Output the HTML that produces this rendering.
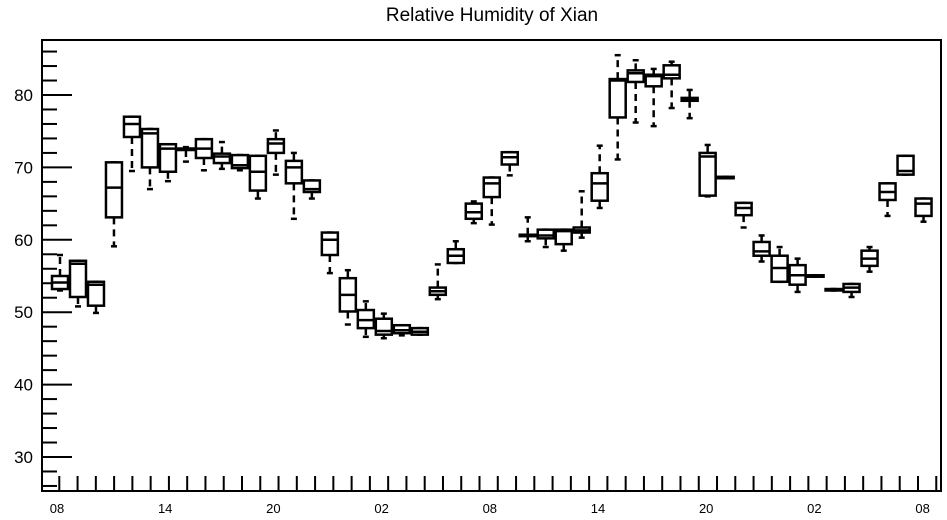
<!DOCTYPE html>
<html><head><meta charset="utf-8"><style>
body{margin:0;background:#fff;}
svg{display:block;font-family:"Liberation Sans",sans-serif;}
</style></head><body>
<svg id="chart" width="947" height="520" viewBox="0 0 947 520">
<text x="492" y="21" font-size="19" text-anchor="middle">Relative Humidity of Xian</text>
<rect x="42" y="40" width="899" height="451" fill="none" stroke="#000" stroke-width="2"/>
<g id="yaxis"></g>
<g id="xaxis"></g>
<g id="boxes"></g>
</svg>
<script>
const yTicks = [30,40,50,60,70,80];
const xTickLabels = ["08","14","20","02","08","14","20","02","08"];
const lo  = [53.0,50.8,49.9,59.1,69.5,67.0,68.1,70.8,69.6,69.8,69.6,65.7,69.0,62.9,65.7,55.4,48.3,46.6,46.4,46.8,46.9,51.8,56.8,62.3,62.1,68.9,59.8,59.0,58.5,60.3,64.4,71.1,76.2,75.7,78.2,76.8,66.0,68.5,61.7,57.0,54.2,52.8,54.9,53.0,52.1,55.6,63.3,69.0,62.5];
const q1  = [53.2,52.1,50.9,63.1,74.2,70.0,69.4,72.4,71.3,70.6,69.9,66.8,72.0,67.8,66.6,57.9,50.1,47.8,46.9,47.1,46.9,52.4,56.8,62.9,65.9,70.4,60.5,60.2,59.4,61.0,65.4,76.9,81.8,81.2,82.3,79.2,66.1,68.5,63.4,57.8,54.2,53.8,54.9,53.0,52.8,56.4,65.5,69.0,63.3];
const med = [54.1,56.7,53.8,67.2,76.0,74.7,72.6,72.6,72.6,71.5,70.3,69.4,73.3,70.0,67.0,60.0,52.4,48.9,47.4,47.5,47.3,52.9,57.8,63.8,67.8,71.4,60.6,60.6,61.2,61.3,67.8,82.0,83.0,82.6,82.8,79.4,71.5,68.6,64.4,58.4,56.1,55.1,55.0,53.1,53.4,57.4,66.6,69.5,65.0];
const q3  = [55.0,57.1,54.2,70.7,77.0,75.3,73.2,72.6,73.9,71.9,71.7,71.6,73.9,70.9,68.2,61.0,54.7,50.3,49.1,48.2,47.8,53.4,58.7,65.0,68.6,72.1,60.7,61.4,61.4,61.7,69.2,82.2,83.4,82.8,84.1,79.6,72.0,68.7,65.1,59.7,57.8,56.5,55.1,53.2,53.9,58.5,67.8,71.6,65.7];
const hi  = [57.9,57.1,54.2,70.7,77.0,75.3,73.2,72.8,73.9,73.5,71.7,71.6,75.1,72.0,68.2,61.0,55.8,51.5,49.8,48.2,47.8,56.6,59.8,65.3,68.6,72.1,63.1,61.4,61.4,66.7,73.0,85.5,84.8,83.6,84.6,80.7,73.1,68.7,65.1,60.6,59.0,57.4,55.1,53.2,53.9,59.0,67.8,71.6,65.7];

const NS="http://www.w3.org/2000/svg";
function y(v){return 95+(80-v)*7.24;}
function x(i){return 60+i*17.99;}
function mk(tag,attrs,parent){const e=document.createElementNS(NS,tag);for(const k in attrs)e.setAttribute(k,attrs[k]);parent.appendChild(e);return e;}

const ya=document.getElementById('yaxis');
for(let v=26;v<=86;v+=2){
  const major=v%10===0;
  const t=mk('line',{x1:42,x2:major?72:57,y1:y(v),y2:y(v),stroke:'#000','stroke-width':2},ya);
  
  
}
yTicks.forEach(v=>{
  const t=mk('text',{x:33,y:y(v)+6,'font-size':17,'text-anchor':'end'},ya);
  t.textContent=v;
  
  
});
const xa=document.getElementById('xaxis');
for(let i=0;;i++){
  const px=59.3+i*18.27; if(px>938)break;
  const t=mk('line',{x1:px,x2:px,y1:491,y2:476,stroke:'#000','stroke-width':2},xa);
  
  
}
xTickLabels.forEach((s,k)=>{
  const t=mk('text',{x:57+k*108.2,y:513,'font-size':13,'text-anchor':'middle'},xa);
  t.textContent=s;
  
  
});
const bg=document.getElementById('boxes');
for(let i=0;i<med.length;i++){
  const g=mk('g',{},bg);
  
  
  const cx=x(i),w=8;
  const yl=y(lo[i]),y1=y(q1[i]),ym=y(med[i]),y3=y(q3[i]),yh=y(hi[i]);
  mk('line',{x1:cx,x2:cx,y1:y3,y2:yh,stroke:'#000','stroke-width':2.5,'stroke-dasharray':'7,5'},g);
  mk('line',{x1:cx,x2:cx,y1:y1,y2:yl,stroke:'#000','stroke-width':2.5,'stroke-dasharray':'7,5'},g);
  mk('line',{x1:cx-3,x2:cx+3,y1:yh,y2:yh,stroke:'#000','stroke-width':2.5},g);
  mk('line',{x1:cx-3,x2:cx+3,y1:yl,y2:yl,stroke:'#000','stroke-width':2.5},g);
  mk('rect',{x:cx-w,y:y3,width:2*w,height:Math.max(1,y1-y3),fill:'#fff',stroke:'#000','stroke-width':2.5},g);
  mk('line',{x1:cx-w,x2:cx+w,y1:ym,y2:ym,stroke:'#000','stroke-width':2.5},g);
}
</script>
</body></html>
